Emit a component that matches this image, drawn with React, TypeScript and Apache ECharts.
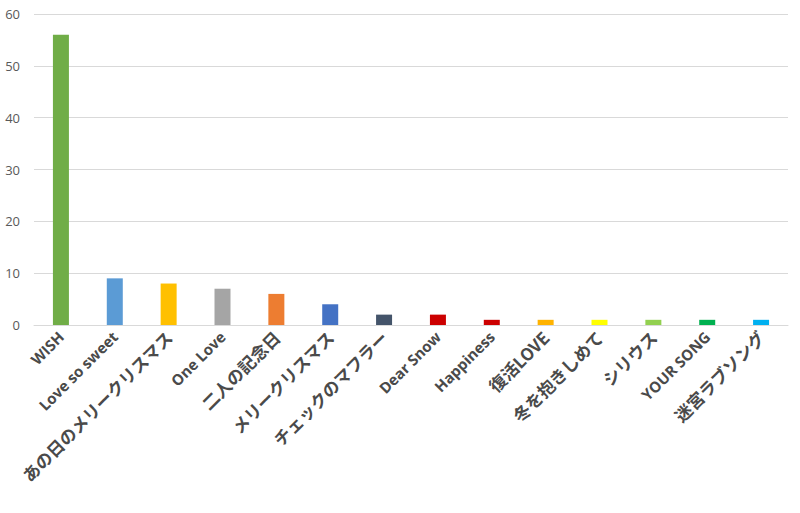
import React, { useEffect, useRef } from "react";
import * as echarts from "echarts";

const categories = [
  "WISH",
  "Love so sweet",
  "あの日のメリークリスマス",
  "One Love",
  "二人の記念日",
  "メリークリスマス",
  "チェックのマフラー",
  "Dear Snow",
  "Happiness",
  "復活LOVE",
  "冬を抱きしめて",
  "シリウス",
  "YOUR SONG",
  "迷宮ラブソング",
];
const values = [56, 9, 8, 7, 6, 4, 2, 2, 1, 1, 1, 1, 1, 1];
const colors = [
  "#70AD47",
  "#5B9BD5",
  "#FFC000",
  "#A5A5A5",
  "#ED7D31",
  "#4472C4",
  "#44546A",
  "#CC0000",
  "#CC0000",
  "#FFB300",
  "#FFFF00",
  "#92D050",
  "#00B050",
  "#00B0F0",
];

export default function App() {
  const ref = useRef<HTMLDivElement>(null);
  useEffect(() => {
    if (!ref.current) return;
    const chart = echarts.init(ref.current, undefined, { renderer: "svg" });
    chart.setOption({
      animation: false,
      backgroundColor: "#ffffff",
      grid: { left: 34, right: 12, top: 14, bottom: 188, containLabel: false },
      xAxis: {
        type: "category",
        data: categories,
        axisTick: { show: false },
        axisLine: { lineStyle: { color: "#D9D9D9", width: 1 } },
        axisLabel: {
          rotate: 45,
          interval: 0,
          color: "#4a4a4a",
          fontSize: 15,
          fontWeight: "bold",
          fontFamily: "'Open Sans', 'Noto Sans CJK JP', sans-serif",
          margin: 9,
          formatter: (v: string) => (/[^\x00-\x7F]/.test(v) ? `{j|${v}}` : v),
          rich: {
            j: {
              fontSize: 17,
              fontWeight: "bold",
              color: "#4a4a4a",
              fontFamily: "'Noto Sans CJK JP', 'Open Sans', sans-serif",
            },
          },
        },
      },
      yAxis: {
        type: "value",
        min: 0,
        max: 60,
        interval: 10,
        axisLine: { show: false },
        axisTick: { show: false },
        splitLine: { lineStyle: { color: "#D9D9D9" } },
        axisLabel: {
          color: "#595959",
          fontSize: 13,
          fontFamily: "'Open Sans', sans-serif",
          margin: 14,
        },
      },
      series: [
        {
          type: "bar",
          data: values.map((v, i) => ({ value: v, itemStyle: { color: colors[i] } })),
          barWidth: 16,
        },
      ],
    });
    return () => chart.dispose();
  }, []);
  return (
    <div
      ref={ref}
      style={{ position: "absolute", left: 0, top: 0, width: 800, height: 513 }}
    />
  );
}
